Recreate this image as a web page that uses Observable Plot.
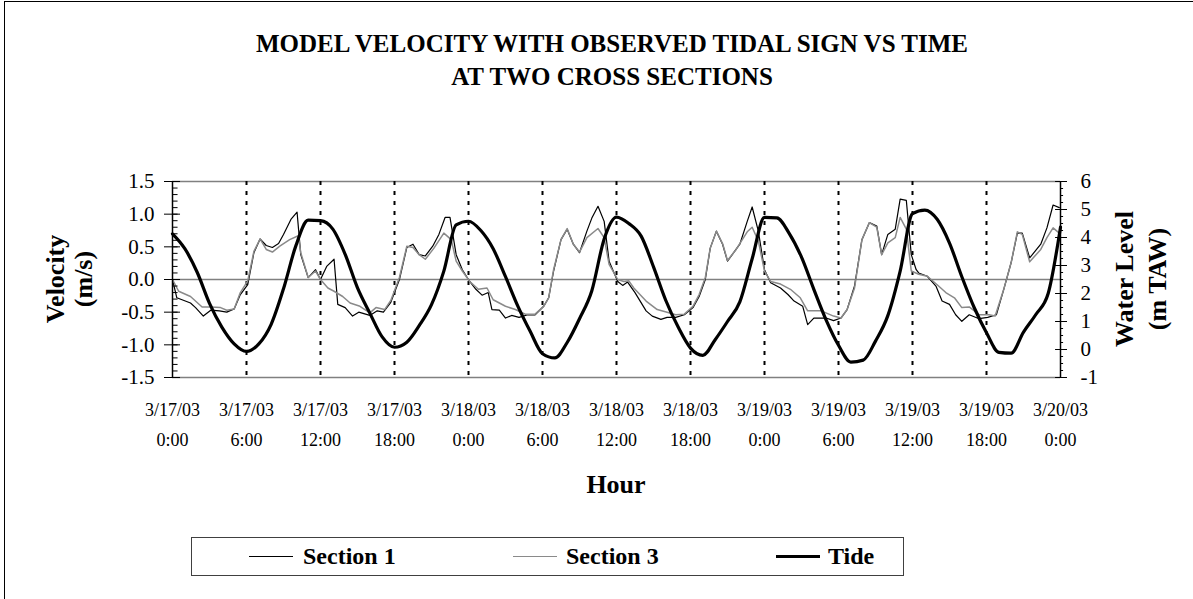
<!DOCTYPE html>
<html><head><meta charset="utf-8">
<script src="https://cdn.jsdelivr.net/npm/d3@7"></script>
<script src="https://cdn.jsdelivr.net/npm/@observablehq/plot@0.6"></script>
<style>
body{margin:0;background:#fff;}
#wrap{position:relative;width:1193px;height:599px;overflow:hidden;font-family:"Liberation Serif","Times New Roman",serif;color:#000;}
.abs{position:absolute;white-space:nowrap;}
.title{left:0;width:1224px;text-align:center;font-weight:bold;font-size:25px;}
.rot{width:300px;height:30px;line-height:30px;text-align:center;font-weight:bold;font-size:26px;transform:rotate(-90deg);}
#legend{left:191px;top:537px;width:713px;height:39px;border:1px solid #404040;box-sizing:border-box;}
.lg{position:absolute;top:0;height:37px;line-height:37px;font-weight:bold;font-size:24px;}
.sw{position:absolute;top:19px;}
</style></head><body><div id="wrap"></div>
<script>
// ---- data ----
const tickHours = [0, 6, 12, 18, 24, 30, 36, 42, 48, 54, 60, 66, 72];
const tickDates = ["3/17/03","3/17/03","3/17/03","3/17/03","3/18/03","3/18/03","3/18/03","3/18/03","3/19/03","3/19/03","3/19/03","3/19/03","3/20/03"];
const tickTimes = ["0:00","6:00","12:00","18:00","0:00","6:00","12:00","18:00","0:00","6:00","12:00","18:00","0:00"];
const velTicks = [-1.5, -1.0, -0.5, 0.0, 0.5, 1.0, 1.5];
const levelTicks = [-1, 0, 1, 2, 3, 4, 5, 6];

const s1Hours = [0,0.35,1.46,1.87,2.5,3.1,3.8,4.4,5.0,5.5,6.1,6.6,7.1,7.6,8.1,8.6,9.0,9.6,10.1,10.4,11.0,11.6,12.0,12.5,13.1,13.4,14.0,14.6,15.1,16.0,16.6,17.1,17.7,18.4,19.0,19.5,20.0,20.5,21.1,21.6,22.1,22.5,23.0,23.5,24.1,24.6,25.1,25.6,25.9,26.5,27.0,27.5,28.1,28.8,29.4,30.1,30.5,30.9,31.5,32.0,32.5,33.0,33.6,34.0,34.5,35.0,35.4,36.1,36.5,36.9,37.5,38.4,38.9,39.6,40.1,40.8,41.5,42.2,42.7,43.2,43.6,44.1,44.6,45.0,45.5,46.0,46.6,47.0,47.5,48.0,48.5,49.3,49.9,50.4,51.1,51.5,52.0,53.0,53.6,54.2,54.7,55.3,55.9,56.5,57.1,57.5,58.0,58.6,59.0,59.5,59.9,60.3,60.5,61.2,61.9,62.4,63.0,63.5,64.0,64.6,65.4,66.1,66.8,67.4,68.0,68.5,68.9,69.5,70.4,70.9,71.4,71.9];
const s1Velocity = [0.0,-0.28,-0.36,-0.43,-0.56,-0.47,-0.48,-0.5,-0.45,-0.23,-0.08,0.41,0.62,0.52,0.49,0.55,0.69,0.92,1.03,0.38,0.03,0.15,0.0,0.2,0.31,-0.38,-0.43,-0.56,-0.5,-0.55,-0.48,-0.5,-0.35,0.0,0.49,0.54,0.38,0.36,0.51,0.69,0.95,0.95,0.38,0.15,-0.03,-0.15,-0.24,-0.2,-0.46,-0.47,-0.59,-0.55,-0.58,-0.54,-0.54,-0.41,-0.28,0.13,0.61,0.77,0.54,0.41,0.74,0.94,1.12,0.89,0.28,-0.03,-0.09,-0.04,-0.2,-0.48,-0.56,-0.61,-0.58,-0.58,-0.54,-0.43,-0.26,0.0,0.48,0.74,0.54,0.28,0.41,0.54,0.89,1.11,0.74,0.15,-0.05,-0.13,-0.23,-0.33,-0.41,-0.69,-0.59,-0.59,-0.63,-0.59,-0.46,-0.1,0.61,0.87,0.82,0.38,0.69,0.77,1.23,1.21,0.38,0.15,0.1,0.05,-0.1,-0.33,-0.38,-0.54,-0.64,-0.54,-0.6,-0.58,-0.54,-0.15,0.26,0.71,0.71,0.33,0.54,0.79,1.14,1.1];

const s3Hours = [0,0.5,1.46,2.4,3.1,3.9,4.4,5.0,5.5,6.1,6.6,7.1,7.6,8.1,8.7,9.5,10.2,10.4,11.0,11.6,12.0,12.6,13.1,13.8,14.4,15.2,16.0,16.5,17.2,17.7,18.4,19.0,19.5,20.0,20.5,21.2,22.0,22.6,23.0,23.5,24.1,24.8,25.5,26.0,27.0,27.8,28.6,29.4,30.1,30.5,30.9,31.5,32.0,32.5,33.0,33.6,34.5,35.0,35.4,36.1,36.6,37.0,37.4,38.4,39.3,40.1,40.8,41.5,42.2,42.7,43.2,43.6,44.1,44.6,45.0,45.7,46.6,47.0,47.5,48.0,48.5,49.3,50.1,50.9,51.5,52.6,53.6,54.2,54.7,55.3,55.9,56.5,57.1,57.5,58.0,58.6,59.0,59.5,59.9,60.5,61.2,62.0,62.7,63.4,64.0,64.6,65.4,66.2,66.7,67.4,68.0,68.5,68.9,69.5,70.4,70.9,71.4,71.9];
const s3Velocity = [0,-0.18,-0.26,-0.42,-0.42,-0.43,-0.47,-0.45,-0.2,-0.02,0.43,0.62,0.46,0.42,0.51,0.61,0.67,0.41,0.03,0.13,0.0,-0.13,-0.18,-0.26,-0.36,-0.41,-0.51,-0.43,-0.46,-0.32,0.03,0.51,0.49,0.38,0.31,0.48,0.71,0.61,0.28,0.13,-0.03,-0.15,-0.13,-0.31,-0.41,-0.46,-0.53,-0.53,-0.41,-0.28,0.15,0.61,0.78,0.54,0.42,0.64,0.78,0.64,0.23,0.0,-0.03,-0.02,-0.13,-0.33,-0.46,-0.5,-0.54,-0.53,-0.41,-0.23,0.03,0.48,0.74,0.55,0.29,0.46,0.73,0.8,0.59,0.13,-0.03,-0.07,-0.15,-0.28,-0.48,-0.48,-0.56,-0.59,-0.46,-0.13,0.61,0.87,0.8,0.38,0.56,0.64,0.95,0.77,0.13,0.08,0.05,-0.08,-0.2,-0.28,-0.43,-0.42,-0.54,-0.54,-0.56,-0.15,0.26,0.73,0.69,0.27,0.46,0.64,0.79,0.71];

const tideHours = [0,1,2,3,4,5,6,7,8,9,10,11,12,13,14,15,16,17,18,19,20,21,22,23,24,25,26,27,28,29,30,31,32,33,34,35,36,37,38,39,40,41,42,43,44,45,46,47,48,49,50,51,52,53,54,55,56,57,58,59,60,61,62,63,64,65,66,67,68,69,70,71,72];
const tideLevel = [4.13,3.6,2.76,1.65,0.8,0.2,-0.07,0.2,0.9,2.17,3.7,4.62,4.6,4.3,3.4,2.2,1.3,0.45,0.08,0.26,0.85,1.6,2.8,4.45,4.58,4.25,3.6,2.6,1.55,0.65,-0.15,-0.3,0.25,1.1,2.1,3.95,4.73,4.5,4.05,2.95,1.75,0.8,0.05,-0.21,0.35,1.0,1.7,3.24,4.72,4.7,4.15,3.3,2.15,1.05,0.15,-0.45,-0.38,0.3,1.21,2.8,4.85,4.98,4.65,3.8,2.6,1.5,0.6,-0.1,-0.13,0.62,1.25,2.0,4.37];

// ---- build ----
const vMin = -1.5, vMax = 1.5, wMin = -1, wMax = 6;
const toV = w => vMin + (w - wMin) * (vMax - vMin) / (wMax - wMin);
const fromV = v => wMin + (v - vMin) * (wMax - wMin) / (vMax - vMin);

const s1 = s1Hours.map((h, i) => ({h, v: s1Velocity[i]}));
const s3 = s3Hours.map((h, i) => ({h, v: s3Velocity[i]}));
const tide = tideHours.map((h, i) => ({h, v: toV(tideLevel[i])}));

const minorLeft = d3.range(-15, 16).map(k => k / 10);
const minorRight = d3.range(wMin * 4, wMax * 4 + 1).map(k => toV(k / 4));

const chart = Plot.plot({
  width: 1193, height: 599,
  marginLeft: 172, marginRight: 133, marginTop: 181, marginBottom: 222,
  style: {fontFamily: '"Liberation Serif","Times New Roman",serif', color: "#000", background: "transparent", overflow: "visible"},
  x: {domain: [0, 72], label: null},
  y: {domain: [vMin, vMax], label: null},
  marks: [
    Plot.ruleY([vMin, 0, vMax], {stroke: "#808080", strokeWidth: 1.6}),
    Plot.ruleX(tickHours.slice(1, -1), {stroke: "#000", strokeWidth: 2, strokeDasharray: "4,6"}),
    Plot.line(s1, {x: "h", y: "v", stroke: "#000", strokeWidth: 1.2}),
    Plot.line(s3, {x: "h", y: "v", stroke: "#8a8a8a", strokeWidth: 1.5}),
    Plot.line(tide, {x: "h", y: "v", stroke: "#000", strokeWidth: 3.2, curve: "monotone-x"}),
    // left axis
    Plot.ruleX([0], {stroke: "#000", strokeWidth: 1.5}),
    Plot.ruleY(minorLeft, {x1: 0, x2: 0.45, stroke: "#000", strokeWidth: 1}),
    Plot.ruleY(velTicks, {x1: 0, x2: 0.65, stroke: "#000", strokeWidth: 1}),
    Plot.axisY({anchor: "left", ticks: velTicks, tickSize: 8, tickPadding: 10, fontSize: 21,
      tickFormat: d => d.toFixed(1), label: null}),
    // right axis (water level)
    Plot.ruleX([72], {stroke: "#000", strokeWidth: 1.5}),
    Plot.ruleY(minorRight, {x1: 72, x2: 72.25, stroke: "#000", strokeWidth: 1}),
    Plot.ruleY(levelTicks.map(toV), {x1: 71.6, x2: 72, stroke: "#000", strokeWidth: 1}),
    Plot.axisY({anchor: "right", ticks: levelTicks.map(toV), tickSize: 6, tickPadding: 14, fontSize: 21,
      tickFormat: v => String(Math.round(fromV(v))), label: null}),
    // x axis labels (two rows)
    Plot.axisX({ticks: tickHours, tickSize: 0, tickPadding: 26, fontSize: 18,
      tickFormat: d => tickDates[tickHours.indexOf(d)], label: null}),
    Plot.axisX({ticks: tickHours, tickSize: 0, tickPadding: 56, fontSize: 18,
      tickFormat: d => tickTimes[tickHours.indexOf(d)], label: null})
  ]
});

const wrap = document.getElementById("wrap");
chart.style.position = "absolute";
chart.style.left = "0"; chart.style.top = "0";
wrap.appendChild(chart);

function add(html, cls, style) {
  const d = document.createElement("div");
  d.className = "abs " + cls;
  d.setAttribute("style", style);
  d.innerHTML = html;
  wrap.appendChild(d);
  return d;
}
// outer frame (top and left edges visible)
add("", "", "left:4px;top:1px;width:1300px;height:700px;border-top:1.5px solid #000;border-left:1.5px solid #000;");
add("MODEL VELOCITY WITH OBSERVED TIDAL SIGN VS TIME", "title", "top:30px;");
add("AT TWO CROSS SECTIONS", "title", "top:63px;");
add("Velocity", "rot", "left:-94px;top:264px;");
add("(m/s)", "rot", "left:-66px;top:264px;");
add("Water Level", "rot", "left:975px;top:264px;");
add("(m TAW)", "rot", "left:1008px;top:264px;");
add("Hour", "", "left:0;width:1232px;text-align:center;top:470px;font-weight:bold;font-size:26px;");

const lg = add("", "", "");
lg.id = "legend";
lg.className = "abs";
const legendItems = [
  {name: "Section 1", color: "#000", w: 1.5, lineX: 57, textX: 111},
  {name: "Section 3", color: "#8a8a8a", w: 1.5, lineX: 321, textX: 374},
  {name: "Tide", color: "#000", w: 3.5, lineX: 584, textX: 636}
];
for (const it of legendItems) {
  const s = document.createElement("div");
  s.className = "sw";
  s.style.left = it.lineX + "px";
  s.style.width = "44px";
  s.style.borderTop = it.w + "px solid " + it.color;
  s.style.marginTop = (-it.w / 2) + "px";
  lg.appendChild(s);
  const t = document.createElement("div");
  t.className = "lg";
  t.style.left = it.textX + "px";
  t.textContent = it.name;
  lg.appendChild(t);
}
</script></body></html>
